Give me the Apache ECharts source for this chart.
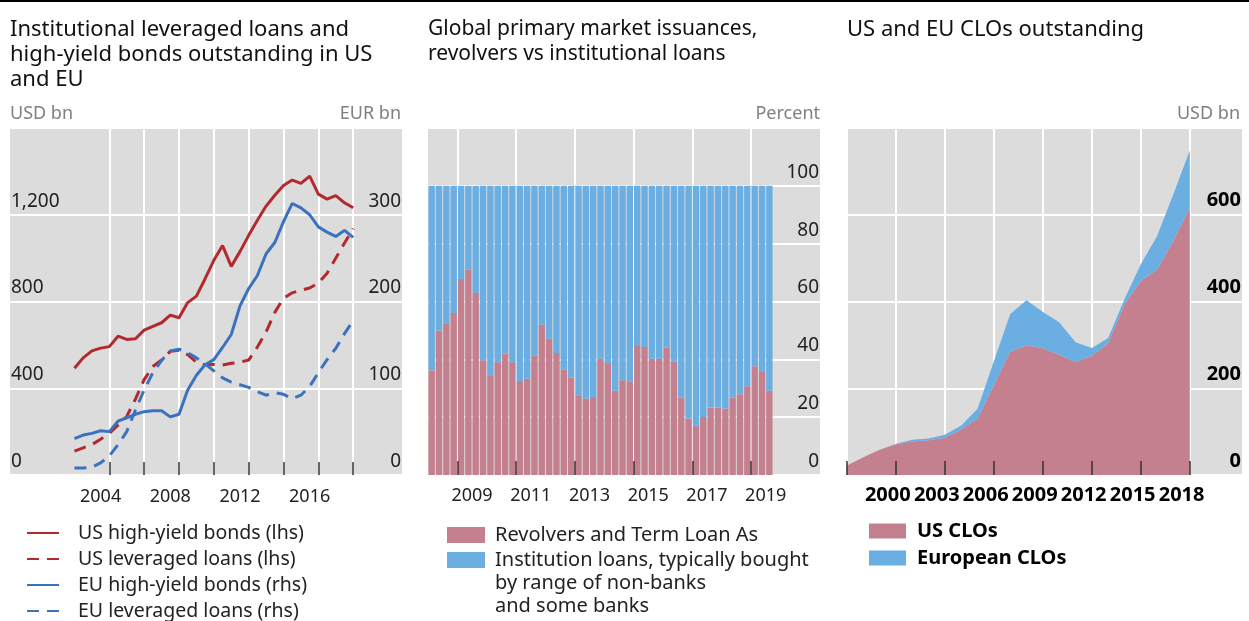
<!DOCTYPE html>
<html>
<head>
<meta charset="utf-8">
<script src="https://cdn.jsdelivr.net/npm/echarts@6/dist/echarts.min.js"></script>
<style>
html, body { margin: 0; padding: 0; background: #fff; }
#chart { width: 1249px; height: 621px; }
</style>
</head>
<body>
<div id="chart"></div>
<script>
// ---- panel 1: leveraged loans / high-yield bonds (half-yearly readings)
var hyDates = [2003.0, 2003.5, 2004.0, 2004.5, 2005.0, 2005.5, 2006.0, 2006.5, 2007.0, 2007.5,
    2008.0, 2008.5, 2009.0, 2009.5, 2010.0, 2010.5, 2011.0, 2011.5, 2012.0, 2012.5,
    2013.0, 2013.5, 2014.0, 2014.5, 2015.0, 2015.5, 2016.0, 2016.5, 2017.0, 2017.5,
    2018.0, 2018.5, 2019.0];
var usHighYield = [492, 540, 572, 585, 592, 640, 625, 628, 668, 685,
    702, 737, 725, 795, 825, 905, 990, 1058, 962, 1030,
    1105, 1175, 1240, 1290, 1335, 1360, 1345, 1378, 1295, 1272,
    1288, 1255, 1232];
var usLevLoans = [110, 125, 140, 165, 192, 230, 270, 350, 440, 500,
    530, 570, 575, 555, 520, 508, 510, 507, 515, 520,
    530, 590, 660, 750, 815, 840, 852, 862, 885, 930,
    1000, 1070, 1136];
var euHighYield = [42, 46, 48, 51, 50, 62, 66, 70, 73, 74,
    74, 67, 70, 98, 115, 127, 133, 147, 162, 195,
    215, 230, 255, 268, 292, 313, 308, 300, 286, 280,
    275, 282, 274];
var euLevLoans = [8, 8, 9, 14, 22, 35, 50, 75, 98, 118,
    132, 143, 145, 141, 135, 128, 120, 112, 107, 104,
    101, 96, 92, 95, 93, 88, 92, 102, 118, 133,
    146, 163, 178];
var p1Ticks = [2005, 2007, 2009, 2011, 2013, 2015, 2017, 2019];
var p1Labels = [2004, 2008, 2012, 2016];

// ---- panel 2: revolvers vs institutional loans (quarterly, percent)
var quarters = ['2008Q1', '2008Q2', '2008Q3', '2008Q4', '2009Q1', '2009Q2', '2009Q3', '2009Q4',
    '2010Q1', '2010Q2', '2010Q3', '2010Q4', '2011Q1', '2011Q2', '2011Q3', '2011Q4',
    '2012Q1', '2012Q2', '2012Q3', '2012Q4', '2013Q1', '2013Q2', '2013Q3', '2013Q4',
    '2014Q1', '2014Q2', '2014Q3', '2014Q4', '2015Q1', '2015Q2', '2015Q3', '2015Q4',
    '2016Q1', '2016Q2', '2016Q3', '2016Q4', '2017Q1', '2017Q2', '2017Q3', '2017Q4',
    '2018Q1', '2018Q2', '2018Q3', '2018Q4', '2019Q1', '2019Q2', '2019Q3'];
var revolvers = [36.2, 50, 52.5, 56, 67.8, 71, 62.9, 39.7, 34.5, 39,
    42, 39, 32.5, 33.3, 41.4, 52, 47.1, 42.2, 36.4, 33.7,
    27.6, 26.4, 27, 40.2, 38.7, 29.1, 32.8, 32.4, 44.6, 44.3,
    40.2, 40.2, 44, 39.3, 26.7, 19.5, 16.9, 20.1, 23.3, 23.3,
    23, 26.8, 27.9, 30.7, 37.6, 35.9, 29.1];
var institutional = [63.8, 50, 47.5, 44, 32.2, 29, 37.1, 60.3, 65.5, 61,
    58, 61, 67.5, 66.7, 58.6, 48, 52.9, 57.8, 63.6, 66.3,
    72.4, 73.6, 73, 59.8, 61.3, 70.9, 67.2, 67.6, 55.4, 55.7,
    59.8, 59.8, 56, 60.7, 73.3, 80.5, 83.1, 79.9, 76.7, 76.7,
    77, 73.2, 72.1, 69.3, 62.4, 64.1, 70.9];
var p2Ticks = [2009, 2011, 2013, 2015, 2017, 2019];

// ---- panel 3: CLOs outstanding (annual, USD bn)
var cloYears = [1997, 1998, 1999, 2000, 2001, 2002, 2003, 2004, 2005, 2006, 2007,
    2008, 2009, 2010, 2011, 2012, 2013, 2014, 2015, 2016, 2017, 2018];
var usClo = [22, 41, 58, 71, 77, 80, 86, 105, 130, 207, 284,
    299, 292, 277, 260, 275, 304, 393, 447, 474, 540, 617];
var euClo = [0, 0, 0, 1, 4, 4, 7, 9, 23, 55, 87,
    104, 84, 75, 46, 18, 12, 12, 39, 77, 108, 131];
var p3Ticks = [1997, 2000, 2003, 2006, 2009, 2012, 2015, 2018];
var p3Labels = [2000, 2003, 2006, 2009, 2012, 2015, 2018];

var RED = '#b2292e', BLUE = '#3a72be';
var PINK = '#c4808e', SKY = '#6aaee2';
var BG = '#dcdcdc';
var FONT = 'Noto Sans';

function pairs(xs, ys) {
    return xs.map(function (x, i) { return [x, ys[i]]; });
}
// value first, x second: keeps stacking on the value dimension when x is a value axis
function stackPairs(xs, ys) {
    return xs.map(function (x, i) { return [ys[i], x]; });
}
// quarter label -> middle of that quarter, in decimal years
function quarterPos(q) {
    return +q.slice(0, 4) + (+q.slice(5) - 1) / 4 + 0.125;
}
var qPos = quarters.map(quarterPos);

var gridLine = { show: true, lineStyle: { color: '#fff', width: 2 } };
var tickStyle = { show: true, inside: true, length: 13, lineStyle: { color: '#333', width: 1.5 } };
var yLab = { inside: true, verticalAlign: 'bottom', fontSize: 19, color: '#222', lineHeight: 19, padding: [0, 0, 4, 0], margin: 1 };
var titleFont = { fontSize: 22, fontWeight: 'normal', color: '#111', lineHeight: 25, fontFamily: FONT };
var unitFont = { fontSize: 18, fontWeight: 'normal', color: '#808080', fontFamily: FONT };

var chart = echarts.init(document.getElementById('chart'), null, { renderer: 'canvas' });

var option = {
    animation: false,
    textStyle: { fontFamily: FONT },
    graphic: [{ type: 'rect', shape: { x: 0, y: 0, width: 1249, height: 2 }, style: { fill: '#000' } }],
    title: [
        { text: 'Institutional leveraged loans and\nhigh-yield bonds outstanding in US\nand EU', left: 10, top: 17, padding: 0, textStyle: titleFont },
        { text: 'Global primary market issuances,\nrevolvers vs institutional loans', left: 428, top: 17, padding: 0,
          textStyle: Object.assign({}, titleFont, { fontSize: 21 }) },
        { text: 'US and EU CLOs outstanding', left: 847, top: 17, padding: 0, textStyle: titleFont },
        { text: 'USD bn', left: 10, top: 105, padding: 0, textStyle: unitFont },
        { text: 'EUR bn', right: 848, top: 105, padding: 0, textStyle: unitFont },
        { text: 'Percent', right: 429, top: 105, padding: 0, textStyle: unitFont },
        { text: 'USD bn', right: 9, top: 105, padding: 0, textStyle: unitFont },
        { text: 'by range of non-banks\nand some banks', left: 495, top: 572, padding: 0,
          textStyle: { fontSize: 20, fontWeight: 'normal', color: '#222', lineHeight: 23, fontFamily: FONT } }
    ],
    legend: [
        {
            data: ['US high-yield bonds (lhs)', 'US leveraged loans (lhs)', 'EU high-yield bonds (rhs)', 'EU leveraged loans (rhs)'],
            orient: 'vertical', left: 26, top: 522, height: 110, padding: 0,
            itemWidth: 32, itemHeight: 14, itemGap: 4,
            itemStyle: { opacity: 0 },
            selectedMode: false,
            textStyle: { fontSize: 19.5, color: '#222', lineHeight: 22, padding: [0, 0, 0, 14] }
        },
        {
            data: ['Revolvers and Term Loan As', 'Institution loans, typically bought by range of non-banks and some banks'],
            formatter: function (name) {
                return name.indexOf('Institution') === 0 ? 'Institution loans, typically bought' : name;
            },
            orient: 'vertical', left: 447, top: 524, padding: 0, icon: 'rect', itemWidth: 38, itemHeight: 16, itemGap: 3,
            selectedMode: false,
            textStyle: { fontSize: 20, color: '#222', lineHeight: 22, padding: [0, 0, 0, 5] }
        },
        {
            data: ['US CLOs', 'European CLOs'],
            orient: 'vertical', left: 869, top: 520, padding: 0, icon: 'rect', itemWidth: 37, itemHeight: 15, itemGap: 5,
            selectedMode: false,
            textStyle: { fontSize: 20, fontWeight: 'bold', color: '#000', lineHeight: 22, padding: [0, 0, 0, 6] }
        }
    ],
    grid: [
        { left: 10, top: 128, width: 392, height: 347, show: true, backgroundColor: BG, borderWidth: 0 },
        { left: 428, top: 128, width: 392, height: 347, show: true, backgroundColor: BG, borderWidth: 0 },
        { left: 847, top: 128, width: 395, height: 347, show: true, backgroundColor: BG, borderWidth: 0 }
    ],
    xAxis: [
        {   // panel 1
            gridIndex: 0, type: 'value', position: 'bottom', min: 1999.3, max: 2021.8,
            axisLine: { show: false },
            splitLine: gridLine,
            axisTick: Object.assign({ customValues: p1Ticks }, tickStyle),
            axisLabel: {
                customValues: p1Labels.map(function (y) { return y + 0.5; }),
                formatter: function (v) { return Math.floor(v); },
                fontSize: 18, color: '#222', margin: 13
            }
        },
        {   // panel 2, grid lines under the bars
            gridIndex: 1, type: 'value', position: 'bottom', min: 2008, max: 2021.35,
            axisLine: { show: false },
            splitLine: gridLine,
            axisTick: { show: false, customValues: p2Ticks },
            axisLabel: { show: false }
        },
        {   // panel 2, ticks and labels over the bars
            gridIndex: 1, type: 'value', position: 'bottom', min: 2008, max: 2021.35, z: 10,
            axisLine: { show: false },
            splitLine: { show: false },
            axisTick: Object.assign({ customValues: p2Ticks }, tickStyle, { length: 14 }),
            axisLabel: {
                customValues: p2Ticks.map(function (y) { return y + 0.5; }),
                formatter: function (v) { return Math.floor(v); },
                fontSize: 18, color: '#222', margin: 12
            }
        },
        {   // panel 3, grid lines under the areas
            gridIndex: 2, type: 'value', position: 'bottom', min: 1997, max: 2021.2,
            axisLine: { show: false },
            splitLine: gridLine,
            axisTick: { show: false, customValues: p3Ticks },
            axisLabel: { show: false }
        },
        {   // panel 3, ticks and labels
            gridIndex: 2, type: 'value', position: 'bottom', min: 1997, max: 2021.2, z: 10,
            axisLine: { show: false },
            splitLine: { show: false },
            axisTick: Object.assign({ customValues: p3Ticks }, tickStyle, { length: 14 }),
            axisLabel: {
                // each label sits half a year before its tick
                customValues: p3Labels.map(function (y) { return y - 0.5; }),
                formatter: function (v) { return Math.ceil(v); },
                fontSize: 20, fontWeight: 'bold', color: '#000', margin: 10
            }
        }
    ],
    yAxis: [
        {
            gridIndex: 0, type: 'value', position: 'left', min: 0, max: 1600, interval: 400,
            axisLine: { show: false }, axisTick: { show: false },
            splitLine: gridLine,
            axisLabel: Object.assign({}, yLab, {
                formatter: function (v) { return v === 1600 ? '' : v.toLocaleString('en-US'); }
            })
        },
        {
            gridIndex: 0, type: 'value', position: 'right', min: 0, max: 400, interval: 100,
            axisLine: { show: false }, axisTick: { show: false },
            splitLine: { show: false },
            axisLabel: Object.assign({}, yLab, {
                formatter: function (v) { return v === 400 ? '' : v; }
            })
        },
        {
            gridIndex: 1, type: 'value', position: 'right', min: 0, max: 120, interval: 20,
            axisLine: { show: false }, axisTick: { show: false },
            splitLine: gridLine,
            axisLabel: Object.assign({}, yLab, {
                formatter: function (v) { return v === 120 ? '' : v; }
            })
        },
        {
            gridIndex: 2, type: 'value', position: 'right', min: 0, max: 800, interval: 200,
            axisLine: { show: false }, axisTick: { show: false },
            splitLine: gridLine,
            axisLabel: Object.assign({}, yLab, {
                fontSize: 20, fontWeight: 'bold', color: '#000', lineHeight: 20,
                formatter: function (v) { return v === 800 ? '' : v; }
            })
        }
    ],
    series: [
        {
            name: 'US high-yield bonds (lhs)', type: 'line', xAxisIndex: 0, yAxisIndex: 0,
            data: pairs(hyDates, usHighYield), symbol: 'none',
            lineStyle: { color: RED, width: 3 }, itemStyle: { color: RED }
        },
        {
            name: 'US leveraged loans (lhs)', type: 'line', xAxisIndex: 0, yAxisIndex: 0,
            data: pairs(hyDates, usLevLoans), symbol: 'none',
            lineStyle: { color: RED, width: 3, type: [12, 8] }, itemStyle: { color: RED }
        },
        {
            name: 'EU high-yield bonds (rhs)', type: 'line', xAxisIndex: 0, yAxisIndex: 1,
            data: pairs(hyDates, euHighYield), symbol: 'none',
            lineStyle: { color: BLUE, width: 3 }, itemStyle: { color: BLUE }
        },
        {
            name: 'EU leveraged loans (rhs)', type: 'line', xAxisIndex: 0, yAxisIndex: 1,
            data: pairs(hyDates, euLevLoans), symbol: 'none',
            lineStyle: { color: BLUE, width: 3, type: [12, 8] }, itemStyle: { color: BLUE }
        },
        {
            name: 'Revolvers and Term Loan As', type: 'bar', xAxisIndex: 1, yAxisIndex: 2,
            stack: 'share', barWidth: 6.4, encode: { x: 1, y: 0 },
            data: stackPairs(qPos, revolvers),
            itemStyle: { color: PINK }
        },
        {
            name: 'Institution loans, typically bought by range of non-banks and some banks', type: 'bar',
            xAxisIndex: 1, yAxisIndex: 2,
            stack: 'share', barWidth: 6.4, encode: { x: 1, y: 0 },
            data: stackPairs(qPos, institutional),
            itemStyle: { color: SKY }
        },
        {
            name: 'US CLOs', type: 'line', xAxisIndex: 3, yAxisIndex: 3, stack: 'clo',
            encode: { x: 1, y: 0 },
            data: stackPairs(cloYears, usClo), symbol: 'none',
            lineStyle: { width: 0 }, itemStyle: { color: PINK },
            areaStyle: { color: PINK, opacity: 1 }
        },
        {
            name: 'European CLOs', type: 'line', xAxisIndex: 3, yAxisIndex: 3, stack: 'clo',
            encode: { x: 1, y: 0 },
            data: stackPairs(cloYears, euClo), symbol: 'none',
            lineStyle: { width: 0 }, itemStyle: { color: SKY },
            areaStyle: { color: SKY, opacity: 1 }
        }
    ]
};

chart.setOption(option);
</script>
</body>
</html>
